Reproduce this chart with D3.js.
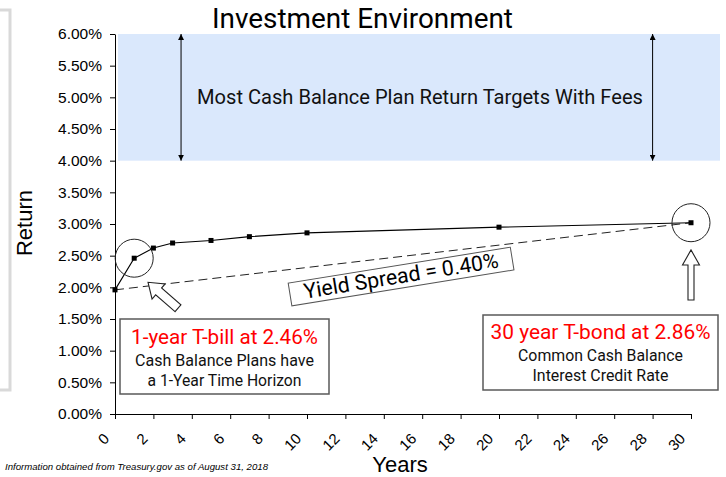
<!DOCTYPE html>
<html>
<head>
<meta charset="utf-8">
<script src="https://cdn.jsdelivr.net/npm/d3@7"></script>
<style>
  body { margin: 0; background: #fff; }
  svg { display: block; font-family: "Liberation Sans", Arial, sans-serif; }
  .ann { font-family: Roboto, "Open Sans", sans-serif; }
</style>
</head>
<body>
<div id="chart"></div>
<script>
// Treasury yield curve, August 31, 2018
const years = [0, 1, 2, 3, 5, 7, 10, 20, 30];
const yields = [1.96, 2.46, 2.62, 2.70, 2.74, 2.80, 2.86, 2.95, 3.02];
const yTicks = d3.range(0, 6.01, 0.5);
const xTicks = d3.range(0, 31, 2);
const targetBand = [4.0, 6.0];
const spreadEnds = [0, 30];

const W = 726, H = 477;
const svg = d3.select('#chart').append('svg').attr('width', W).attr('height', H);

const x = d3.scaleLinear().domain([0, 30]).range([115, 691]);
const y = d3.scaleLinear().domain([0, 6]).range([414, 34]);

// fit a text node's font size so it spans a given width
function fit(sel, width) {
  const node = sel.node();
  const fs = parseFloat(sel.attr('font-size'));
  const len = node.getComputedTextLength();
  sel.attr('font-size', (fs * width / len).toFixed(2));
  return sel;
}

// light grey frame peeking in at the left
svg.append('rect')
  .attr('x', -20).attr('y', 10).attr('width', 30).attr('height', 380)
  .attr('fill', 'none').attr('stroke', '#d9d9d9').attr('stroke-width', 3);

// target band
svg.append('rect')
  .attr('x', x(0) + 3).attr('y', y(targetBand[1]))
  .attr('width', W - 6 - (x(0) + 3)).attr('height', y(targetBand[0]) - y(targetBand[1]))
  .attr('fill', '#dae8fc');

const defs = svg.append('defs');
['start', 'end'].forEach(k => {
  defs.append('marker')
    .attr('id', 'head-' + k)
    .attr('viewBox', '0 0 10 10').attr('refX', 10).attr('refY', 5)
    .attr('markerWidth', 6).attr('markerHeight', 6)
    .attr('orient', k === 'start' ? 'auto-start-reverse' : 'auto')
    .attr('markerUnits', 'userSpaceOnUse')
    .append('path').attr('d', 'M0,0L10,5L0,10z').attr('fill', '#000');
});

[3.44, 28.0].forEach(t => {
  svg.append('line')
    .attr('x1', x(t)).attr('x2', x(t))
    .attr('y1', y(targetBand[1])).attr('y2', y(targetBand[0]))
    .attr('stroke', '#000').attr('stroke-width', 1)
    .attr('marker-start', 'url(#head-start)').attr('marker-end', 'url(#head-end)');
});

svg.append('text').attr('class', 'ann')
  .attr('x', 420).attr('y', 104).attr('text-anchor', 'middle')
  .attr('font-size', 19).attr('fill', '#111')
  .text('Most Cash Balance Plan Return Targets With Fees')
  .call(fit, 446);

// axes
const yAxis = svg.append('g')
  .attr('transform', `translate(${x(0)},0)`)
  .call(d3.axisLeft(y).tickValues(yTicks).tickSize(5).tickSizeOuter(0).tickPadding(8)
    .tickFormat(d => d3.format('.2f')(d) + '%'));
yAxis.selectAll('text').attr('font-size', 15.5).attr('fill', '#000')
  .attr('font-family', '"Liberation Sans", Arial, sans-serif');
yAxis.selectAll('line, path').attr('stroke', '#000');

const xAxis = svg.append('g')
  .attr('transform', `translate(0,${y(0)})`)
  .call(d3.axisBottom(x).tickValues(xTicks).tickSize(5).tickSizeOuter(0));
xAxis.selectAll('line, path').attr('stroke', '#000');
xAxis.selectAll('text')
  .attr('x', 0).attr('y', 0).attr('dy', '0.35em')
  .attr('transform', 'translate(-9,22) rotate(-45)')
  .attr('text-anchor', 'end')
  .attr('font-size', 15).attr('fill', '#000')
  .attr('font-family', '"Liberation Sans", Arial, sans-serif');

// yield spread dashed line
svg.append('line')
  .attr('x1', x(spreadEnds[0])).attr('y1', y(yields[0]))
  .attr('x2', x(spreadEnds[1])).attr('y2', y(yields[yields.length - 1]))
  .attr('stroke', '#222').attr('stroke-width', 1).attr('stroke-dasharray', '9,5');

// yield curve
const pts = years.map((t, i) => [t, yields[i]]);
svg.append('path')
  .datum(pts)
  .attr('fill', 'none').attr('stroke', '#000').attr('stroke-width', 1.1)
  .attr('d', d3.line().x(d => x(d[0])).y(d => y(d[1])));

svg.selectAll('rect.pt')
  .data(pts).enter().append('rect').attr('class', 'pt')
  .attr('x', d => x(d[0]) - 2.5).attr('y', d => y(d[1]) - 2.5)
  .attr('width', 5).attr('height', 5).attr('fill', '#000');

// highlight circles on 1 year and 30 year
[[years[1], yields[1]], [years[8], yields[8]]].forEach(d => {
  svg.append('circle')
    .attr('cx', x(d[0])).attr('cy', y(d[1])).attr('r', 19)
    .attr('fill', 'none').attr('stroke', '#222').attr('stroke-width', 1);
});

// hollow block arrows
function blockArrow(x1, y1, x2, y2, bw, hw, hl) {
  const L = Math.hypot(x2 - x1, y2 - y1);
  const a = Math.atan2(y2 - y1, x2 - x1) * 180 / Math.PI;
  const p = [[0, -bw], [L - hl, -bw], [L - hl, -hw], [L, 0], [L - hl, hw], [L - hl, bw], [0, bw]];
  svg.append('path')
    .attr('d', 'M' + p.map(q => q.join(',')).join('L') + 'Z')
    .attr('transform', `translate(${x1},${y1}) rotate(${a})`)
    .attr('fill', '#fff').attr('stroke', '#222').attr('stroke-width', 1.1);
}
blockArrow(x(3.28), y(1.67), x(1.72), y(2.08), 4.5, 10, 14);
blockArrow(x(30), y(1.80), x(30), y(2.59), 3, 8.5, 15);

// yield spread label
const ys = svg.append('g').attr('transform', `translate(${x(14.9)},${y(2.17)}) rotate(-9.2)`);
ys.append('rect').attr('x', -112.5).attr('y', -11.5).attr('width', 225).attr('height', 23)
  .attr('fill', '#fff').attr('stroke', '#555').attr('stroke-width', 1);
ys.append('text').attr('class', 'ann')
  .attr('x', 0).attr('y', 6.5).attr('text-anchor', 'middle')
  .attr('font-size', 18).attr('fill', '#000')
  .text('Yield Spread = 0.40%')
  .call(fit, 197);

// note boxes
function noteBox(bx, by, bw, bh, lines) {
  svg.append('rect').attr('x', bx).attr('y', by).attr('width', bw).attr('height', bh)
    .attr('fill', '#fff').attr('stroke', '#595959').attr('stroke-width', 1.5);
  lines.forEach(l => {
    svg.append('text').attr('class', 'ann')
      .attr('x', bx + bw / 2).attr('y', l.y).attr('text-anchor', 'middle')
      .attr('font-size', l.size).attr('fill', l.color)
      .text(l.text)
      .call(fit, l.w);
  });
}
noteBox(120, 319, 209, 75, [
  { text: '1-year T-bill at 2.46%', y: 344, size: 20, color: '#ff0000', w: 187 },
  { text: 'Cash Balance Plans have', y: 366, size: 16, color: '#111', w: 179 },
  { text: 'a 1-Year Time Horizon', y: 386, size: 16, color: '#111', w: 154 }
]);
noteBox(483, 315, 235, 75, [
  { text: '30 year T-bond at 2.86%', y: 339, size: 20, color: '#ff0000', w: 220 },
  { text: 'Common Cash Balance', y: 361, size: 16, color: '#111', w: 165 },
  { text: 'Interest Credit Rate', y: 381, size: 16, color: '#111', w: 136 }
]);

// titles
svg.append('text').attr('class', 'ann')
  .attr('x', 362.5).attr('y', 28).attr('text-anchor', 'middle')
  .attr('font-size', 24).attr('fill', '#000')
  .text('Investment Environment')
  .call(fit, 301);

svg.append('text')
  .attr('transform', 'translate(32,223) rotate(-90)')
  .attr('text-anchor', 'middle').attr('font-size', 22).attr('fill', '#000')
  .text('Return');

svg.append('text')
  .attr('x', 400).attr('y', 472).attr('text-anchor', 'middle')
  .attr('font-size', 22).attr('fill', '#000')
  .text('Years');

svg.append('text')
  .attr('x', 5).attr('y', 470)
  .attr('font-size', 9).attr('font-style', 'italic').attr('fill', '#000')
  .attr('textLength', 263).attr('lengthAdjust', 'spacingAndGlyphs')
  .text('Information obtained from Treasury.gov as of August 31, 2018');
</script>
</body>
</html>
